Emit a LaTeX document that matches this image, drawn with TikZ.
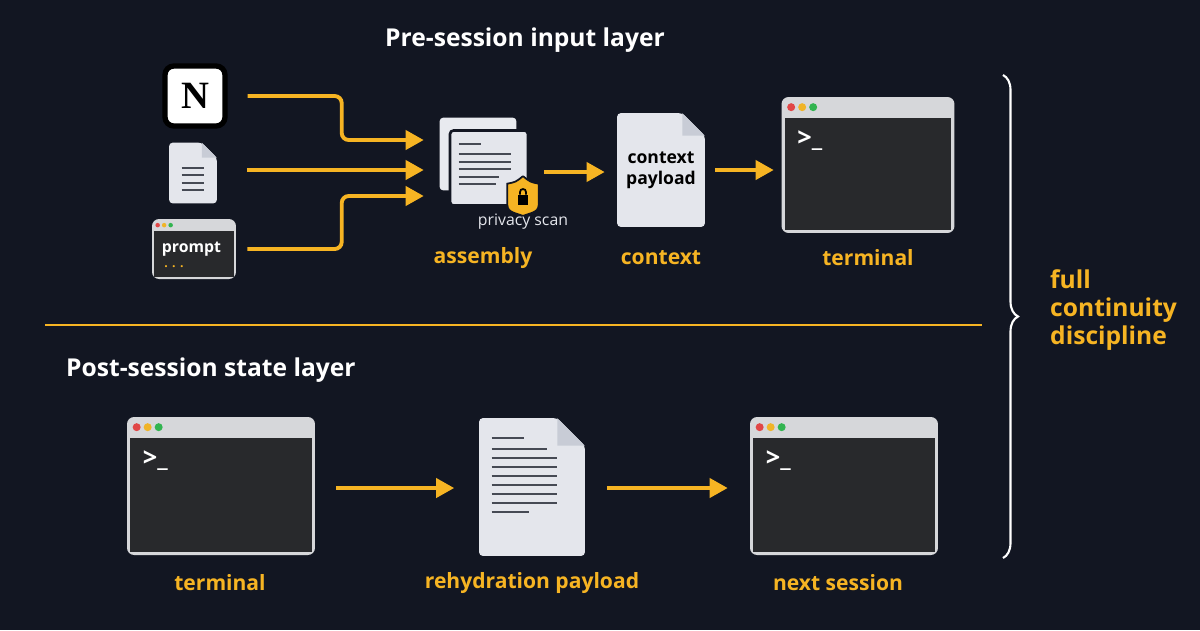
\documentclass[tikz,border=0pt]{standalone}
\usepackage{fontspec}
\setmainfont{Open Sans}
\usetikzlibrary{arrows.meta,decorations.pathreplacing,calc}
\definecolor{bg}{RGB}{18,22,34}
\definecolor{amber}{RGB}{246,180,35}
\definecolor{paper}{RGB}{228,230,236}
\definecolor{fold}{RGB}{200,204,214}
\definecolor{ink}{RGB}{70,74,84}
\definecolor{screen}{RGB}{40,41,44}
\definecolor{bar}{RGB}{214,215,218}
\definecolor{dred}{RGB}{225,70,70}
\definecolor{dyel}{RGB}{240,180,40}
\definecolor{dgrn}{RGB}{50,180,80}
% window chrome for a terminal node
\newcommand{\winchrome}[1]{%
  \fill[screen] ($(#1.north west)+(0.07cm,-0.42cm)$) rectangle ($(#1.south east)+(-0.07cm,0.07cm)$);
  \fill[dred] ($(#1.north west)+(0.2cm,-0.21cm)$) circle (0.08cm);
  \fill[dyel] ($(#1.north west)+(0.42cm,-0.21cm)$) circle (0.08cm);
  \fill[dgrn] ($(#1.north west)+(0.64cm,-0.21cm)$) circle (0.08cm);
  \node[white,font=\bfseries\Large,anchor=north west] at ($(#1.north west)+(0.2cm,-0.55cm)$) {>\_};}
% page with dog-ear
\newcommand{\page}[2]{%
  \fill[paper,rounded corners=2pt] (#1.south west) -- (#1.north west) -- ($(#1.north east)+(-#2cm,0)$) -- ($(#1.north east)+(0,-#2cm)$) -- (#1.south east) -- cycle;
  \fill[fold] ($(#1.north east)+(-#2cm,0)$) -- ($(#1.north east)+(-#2cm,-#2cm)$) -- ($(#1.north east)+(0,-#2cm)$) -- cycle;}
\begin{document}
\begin{tikzpicture}[x=0.02cm,y=-0.02cm]
\tikzstyle{flow}=[draw=amber,line width=2.2pt,-{Triangle[length=0.36cm,width=0.38cm]},rounded corners=4pt]
\tikzstyle{lbl}=[text=amber,font=\bfseries\fontsize{12}{14}\selectfont]
\tikzstyle{head}=[text=white,font=\bfseries\fontsize{14}{16}\selectfont]
\tikzstyle{win}=[fill=bar,rounded corners=4pt,inner sep=0pt]
\tikzstyle{box}=[inner sep=0pt]
\fill[bg] (0,0) rectangle (1200,630);

\node[head] (top) at (525,40) {Pre-session input layer};
\node[head,anchor=west] (bot) at (60,370) {Post-session state layer};

% sources
\node[box,fill=white,draw=black,line width=3pt,rounded corners=5pt,minimum width=1.2cm,minimum height=1.2cm,font=\bfseries\fontspec{Liberation Serif}\fontsize{22}{22}\selectfont] (notion) at (195,96) {N};
\node[box,minimum width=0.94cm,minimum height=1.2cm] (doc) at (193,173) {};
\page{doc}{0.3}
\foreach \y in {0.5,0.65,0.8,0.95} \draw[ink,line width=1pt] ($(doc.north west)+(0.25cm,-\y cm)$) -- +(0.45cm,0);
\node[win,minimum width=1.68cm,minimum height=1.2cm] (prompt) at (194,249) {};
\fill[screen] ($(prompt.north west)+(0.05cm,-0.25cm)$) rectangle ($(prompt.south east)+(-0.05cm,0.05cm)$);
\foreach \i/\c in {0/dred,1/dyel,2/dgrn} \fill[\c] ($(prompt.north west)+(0.12cm+0.13cm*\i,-0.13cm)$) circle (0.045cm);
\node[white,font=\bfseries\small] (ptxt) at ($(prompt.center)+(-0.05cm,0)$) {prompt};
\node[amber,font=\bfseries\scriptsize] (pdots) at ($(prompt.center)+(-0.4cm,-0.36cm)$) {. . .};

% assembly
\node[box,minimum width=1.52cm,minimum height=1.44cm] (back) at (478,154) {};
\fill[paper!85,rounded corners=2pt] (back.south west) rectangle (back.north east);
\node[box,minimum width=1.56cm,minimum height=1.5cm,fill=paper,draw=bg,line width=1.5pt,rounded corners=2pt] (asm) at (489,168) {};
\foreach \y/\w in {0.3/0.45,0.5/1.05,0.65/1.05,0.8/1.05,0.95/0.8,1.1/0.75} \draw[ink,line width=1pt] ($(asm.north west)+(0.2cm,-\y cm)$) -- +(\w cm,0);
\node[box,minimum width=0.62cm,minimum height=0.78cm] (shield) at (523,196) {};
\fill[amber,draw=bg,line width=1pt] (shield.north) .. controls ($(shield.north)+(0.15cm,-0.12cm)$) .. ($(shield.north east)+(0,-0.15cm)$) -- ($(shield.east)+(0,-0.05cm)$) .. controls ($(shield.south east)+(0,0.1cm)$) .. (shield.south) .. controls ($(shield.south west)+(0,0.1cm)$) .. ($(shield.west)+(0,-0.05cm)$) -- ($(shield.north west)+(0,-0.15cm)$) .. controls ($(shield.north)+(-0.15cm,-0.12cm)$) .. (shield.north);
\fill[black] ($(shield.center)+(-0.1cm,-0.17cm)$) rectangle ($(shield.center)+(0.1cm,0.03cm)$);
\draw[black,line width=1pt] ($(shield.center)+(-0.06cm,0.03cm)$) -- ++(0,0.05cm) arc (180:0:0.06cm) -- ++(0,-0.05cm);
\node[text=paper,font=\small] (scan) at (523,222) {privacy scan};
\node[lbl] (asmlbl) at (483,258) {assembly};

% context payload
\node[box,minimum width=1.74cm,minimum height=2.26cm] (ctx) at (661,170) {};
\page{ctx}{0.45}
\node[font=\bfseries\normalsize,align=center,text=black] (ctxtxt) at (ctx.center) {context\\payload};
\node[lbl] (ctxlbl) at (661,258) {context};

% terminal
\node[win,minimum width=3.46cm,minimum height=2.72cm] (term) at (868,165) {};
\winchrome{term}
\node[lbl] (termlbl) at (868,258) {terminal};

\draw[flow] ($(notion.east)+(0.4cm,0)$) -| ($(asm.west)+(-2.14cm,0.56cm)$) -- ($(asm.west)+(-0.5cm,0.56cm)$);
\draw[flow] ($(doc.east)+(0.6cm,0.06cm)$) -- ($(doc.east -| asm.west)+(-0.5cm,0.06cm)$);
\draw[flow] ($(prompt.east)+(0.22cm,0)$) -| ($(asm.west)+(-2.14cm,-0.56cm)$) -- ($(asm.west)+(-0.5cm,-0.56cm)$);
\draw[flow] ($(asm.east)+(0.3cm,-0.08cm)$) -- ($(asm.east -| ctx.west)+(-0.25cm,-0.08cm)$);
\draw[flow] ($(ctx.east)+(0.2cm,0)$) -- ($(ctx.east -| term.west)+(-0.15cm,0)$);

\draw[amber,line width=0.8pt] (45,325) -- (982,325);

% post-session
\node[win,minimum width=3.76cm,minimum height=2.76cm] (old) at (221,486) {};
\winchrome{old}
\node[box,minimum width=2.1cm,minimum height=2.74cm] (rehy) at (532,487) {};
\page{rehy}{0.55}
\foreach \y/\w in {0.4/0.65,0.62/1.1,0.8/1.3,0.98/1.3,1.16/1.3,1.34/1.3,1.52/1.3,1.7/1.3,1.88/0.75} \draw[ink,line width=1.4pt] ($(rehy.north west)+(0.25cm,-\y cm)$) -- +(\w cm,0);
\node[win,minimum width=3.76cm,minimum height=2.76cm] (next) at (844,486) {};
\winchrome{next}
\draw[flow] ($(old.east)+(0.42cm,-0.04cm)$) -- ($(old.east -| rehy.west)+(-0.5cm,-0.04cm)$);
\draw[flow] ($(old.east -| rehy.east)+(0.44cm,-0.04cm)$) -- ($(old.east -| next.west)+(-0.44cm,-0.04cm)$);
\node[lbl] (oldlbl) at (220,583) {terminal};
\node[lbl] (rehylbl) at (532,583) {rehydration payload};
\node[lbl] (nextlbl) at (838,583) {next session};

% brace
\draw[decorate,decoration={brace,amplitude=0.3cm},white,line width=1.2pt] (1003,75) -- (1003,558);
\node[lbl,anchor=west,align=left,font=\bfseries\fontsize{14}{16}\selectfont] (disc) at (1044,310) {full\\continuity\\discipline};
\end{tikzpicture}
\end{document}
